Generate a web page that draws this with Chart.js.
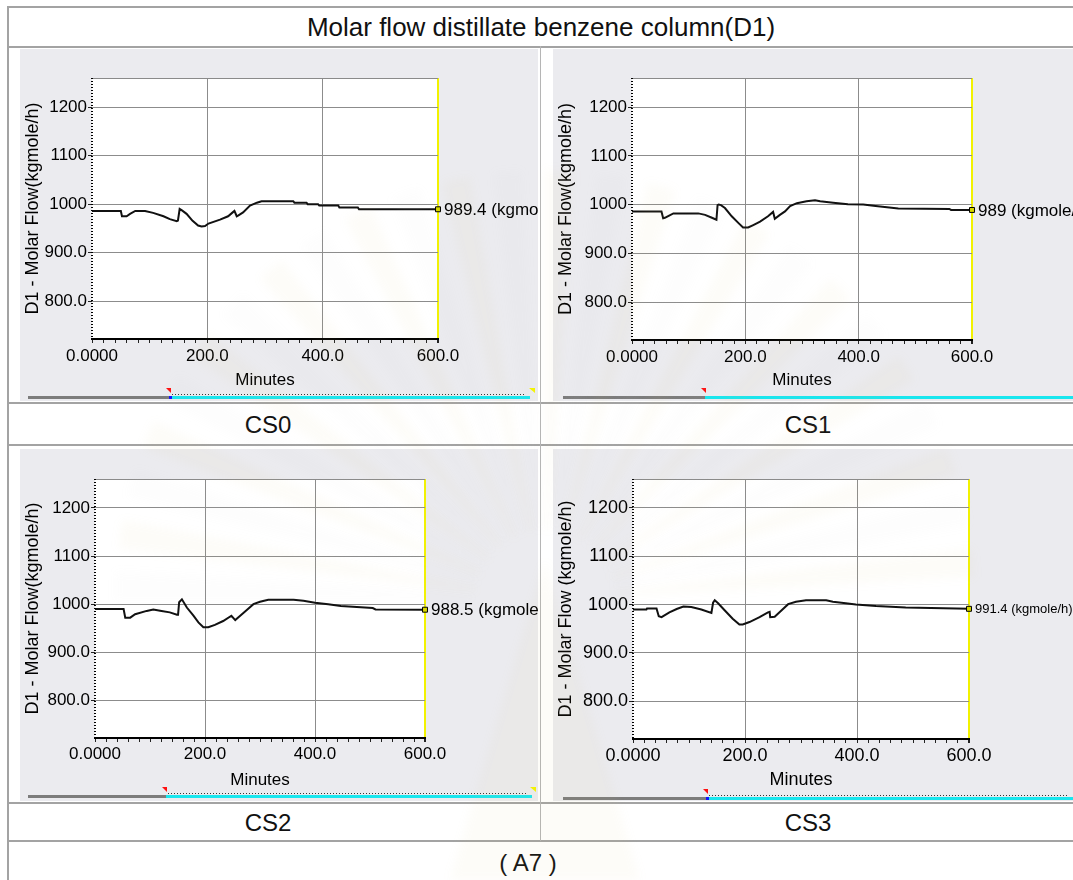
<!DOCTYPE html>
<html>
<head>
<meta charset="utf-8">
<script src="https://cdn.jsdelivr.net/npm/chart.js@4.4.1/dist/chart.umd.min.js"></script>
<style>
body { margin: 0; background: #fff; width: 1073px; height: 880px; overflow: hidden; position: relative; font-family: "Liberation Sans", Arial, sans-serif; }
.hl { position: absolute; left: 7px; width: 1080px; height: 2px; background: #a3a3a3; }
.vl { position: absolute; background: #a3a3a3; }
.cap { position: absolute; width: 300px; text-align: center; color: #111; white-space: nowrap; line-height: 1; }
canvas { position: absolute; background: #ebebef; }
#mark { background: transparent; pointer-events: none; }
</style>
</head>
<body>
<div class="hl" style="top:6px"></div>
<div class="hl" style="top:46px"></div>
<div class="hl" style="top:402px"></div>
<div class="hl" style="top:444px"></div>
<div class="hl" style="top:802px"></div>
<div class="hl" style="top:840px"></div>
<div class="vl" style="left:7px; top:6px; width:2px; height:874px"></div>
<div class="vl" style="left:540px; top:46px; width:1px; height:795px; background:#b5b5b5"></div>

<div class="cap" style="left:241px; top:14px; width:600px; font-size:26px">Molar flow distillate benzene column(D1)</div>
<div class="cap" id="lab0" style="left:118px; top:413px; font-size:24px"></div>
<div class="cap" id="lab1" style="left:658px; top:413px; font-size:24px"></div>
<div class="cap" id="lab2" style="left:118px; top:811px; font-size:24px"></div>
<div class="cap" id="lab3" style="left:658px; top:811px; font-size:24px"></div>
<div class="cap" style="left:378px; top:851px; font-size:24px">( A7 )</div>

<canvas id="c0" width="518" height="352" style="left:20px; top:49px"></canvas>
<canvas id="c1" width="520" height="352" style="left:553px; top:49px"></canvas>
<canvas id="c2" width="518" height="352" style="left:20px; top:449px"></canvas>
<canvas id="c3" width="520" height="352" style="left:553px; top:449px"></canvas>
<canvas id="mark" width="1073" height="880" style="left:0; top:0"></canvas>

<script>
// time (minutes) and D1 molar flow (kgmole/h)
var minutes0 = [0, 50, 52, 60, 66, 75, 92, 106, 124, 135, 147, 149, 152, 156, 164, 174, 184, 190, 196, 202, 222, 236, 244, 247, 251, 254, 262, 274, 286, 294, 349, 351, 372, 374, 392, 394, 427, 429, 461, 463, 600];
var flow0 = [986, 986, 975, 975, 980, 986, 986, 982, 975, 969, 965, 966, 990, 987, 980, 966, 956, 954, 955, 960, 968, 975, 983, 986, 975, 977, 983, 997, 1003, 1006, 1006, 1003, 1003, 1000, 1000, 997, 997, 993, 993, 989.4, 989.4];

var minutes1 = [0, 52, 55, 58, 63, 73, 117, 129, 141, 149, 151, 153, 157, 164, 176, 188, 196, 205, 214, 226, 240, 249, 252, 261, 270, 279, 291, 308, 323, 332, 355, 381, 408, 430, 470, 560, 563, 600];
var flow1 = [986, 986, 972, 973, 976, 982, 982, 979, 973, 969, 999, 1000, 999, 993, 976, 962, 953, 953, 958, 965, 976, 985, 971, 979, 986, 997, 1003, 1007, 1009, 1007, 1004, 1001, 1000, 997, 992, 991, 989, 989];

var minutes2 = [0, 52, 55, 64, 73, 94, 106, 121, 136, 149, 151, 153, 158, 167, 179, 188, 197, 206, 218, 233, 248, 255, 264, 276, 288, 300, 315, 361, 379, 400, 424, 447, 505, 510, 600];
var flow2 = [990, 990, 972, 972, 979, 986, 989, 986, 983, 978, 978, 1004, 1010, 993, 976, 962, 952, 952, 957, 965, 976, 967, 976, 988, 1000, 1005, 1009, 1009, 1007, 1003, 1000, 996, 992, 989, 988.5];

var minutes3 = [0, 24, 25, 42, 46, 51, 65, 78, 90, 104, 122, 140, 143, 146, 152, 164, 178, 190, 196, 208, 226, 241, 244, 245, 253, 265, 277, 291, 309, 345, 357, 380, 398, 434, 487, 600];
var flow3 = [990, 990, 992, 992, 976, 974, 984, 991, 996, 995, 990, 983, 1004, 1009, 1003, 988, 971, 959, 959, 964, 974, 984, 985, 974, 975, 988, 1001, 1006, 1009, 1009, 1006, 1003, 1000.5, 997, 994, 991.4];

var panelNames = ['CS0', 'CS1', 'CS2', 'CS3'];
var endLabels = ['989.4 (kgmole/h)', '989 (kgmole/h)', '988.5 (kgmole/h)', '991.4 (kgmole/h)'];
var xTickValues = [0, 200, 400, 600];
var xTickText = ['0.0000', '200.0', '400.0', '600.0'];
var yTickValues = [800, 900, 1000, 1100, 1200];
var yTickText = ['800.0', '900.0', '1000', '1100', '1200'];

// small marks along the time axis every 20 min
var xMinor = [];
for (var m = 0; m <= 600; m += 20) xMinor.push(m);

// panel geometry (canvas px): area = [left, top, right, bottom] of the plot
var panels = [
    { id: 'c0', area: [72, 29, 418, 290], xH: 54, fs: 17, endFs: 17, tickPad: 3, yTitle: 'D1 - Molar Flow(kgmole/h)',
      slider: { y: 348, a: 8, b: 150, c: 510, dots: true, blue: true, yellow: 512 } },
    { id: 'c1', area: [79, 29, 419, 291], xH: 53, fs: 17, endFs: 17, tickPad: 3, yTitle: 'D1 - Molar Flow(kgmole/h)',
      slider: { y: 348, a: 10, b: 152, c: 520, dots: false, blue: false, yellow: 0 } },
    { id: 'c2', area: [75, 30, 405, 289], xH: 55, fs: 17, endFs: 17, tickPad: 2, yTitle: 'D1 - Molar Flow(kgmole/h)',
      slider: { y: 347, a: 8, b: 146, c: 512, dots: true, blue: false, yellow: 513 } },
    { id: 'c3', area: [80, 30, 416, 290], xH: 54, fs: 18, endFs: 13, tickPad: 2, yTitle: 'D1 - Molar Flow (kgmole/h)',
      slider: { y: 349, a: 10, b: 154, c: 520, dots: true, blue: true, yellow: 0 } }
];

var decoPlugin = {
    id: 'deco',
    beforeDraw: function (chart) {
        var ca = chart.chartArea, ctx = chart.ctx;
        ctx.save();
        ctx.fillStyle = '#ffffff';
        ctx.fillRect(ca.left, ca.top, ca.right - ca.left, ca.bottom - ca.top);
        ctx.restore();
    },
    afterDraw: function (chart, args, opts) {
        var ca = chart.chartArea, ctx = chart.ctx;
        ctx.save();
        // top frame
        ctx.strokeStyle = '#8a8a8a';
        ctx.lineWidth = 1;
        ctx.beginPath();
        ctx.moveTo(ca.left, ca.top + 0.5);
        ctx.lineTo(ca.right, ca.top + 0.5);
        ctx.stroke();
        // dotted value axis
        ctx.strokeStyle = '#000';
        ctx.lineWidth = 2;
        ctx.setLineDash([1, 2]);
        ctx.beginPath();
        ctx.moveTo(ca.left, ca.top);
        ctx.lineTo(ca.left, ca.bottom);
        ctx.stroke();
        ctx.setLineDash([]);
        // value label next to the last point
        var meta = chart.getDatasetMeta(0);
        var pt = meta.data[meta.data.length - 1];
        ctx.fillStyle = '#000';
        ctx.font = opts.endFs + 'px "Liberation Sans", Arial, sans-serif';
        ctx.textBaseline = 'middle';
        ctx.textAlign = 'left';
        ctx.fillText(opts.label, pt.x + 6, pt.y + 1);
        // time slider under the chart
        var s = opts.slider;
        ctx.fillStyle = '#7c7c7c';
        ctx.fillRect(s.a, s.y - 1, s.b - s.a, 3);
        ctx.fillStyle = '#19e6ee';
        ctx.fillRect(s.b, s.y - 1, s.c - s.b, 3);
        if (s.dots) {
            ctx.fillStyle = '#333';
            for (var x = s.b + 2; x < s.c - 4; x += 3) ctx.fillRect(x, s.y - 3, 1, 1);
        }
        ctx.fillStyle = '#ff1010';
        ctx.beginPath();
        ctx.moveTo(s.b - 4, s.y - 9);
        ctx.lineTo(s.b + 1, s.y - 9);
        ctx.lineTo(s.b + 1, s.y - 4);
        ctx.closePath();
        ctx.fill();
        if (s.blue) {
            ctx.fillStyle = '#1010ff';
            ctx.fillRect(s.b - 1, s.y - 1, 3, 3);
        }
        if (s.yellow) {
            ctx.fillStyle = '#f4f400';
            ctx.beginPath();
            ctx.moveTo(s.yellow - 3, s.y - 9);
            ctx.lineTo(s.yellow + 3, s.y - 9);
            ctx.lineTo(s.yellow + 3, s.y - 4);
            ctx.closePath();
            ctx.fill();
        }
        ctx.restore();
    }
};

function makeChart(p, times, flows, label) {
    var cv = document.getElementById(p.id);
    var W = cv.width, H = cv.height, a = p.area;
    var pts = times.map(function (t, i) { return { x: t, y: flows[i] }; });
    var last = pts.length - 1;
    var font = { family: '"Liberation Sans", Arial, sans-serif', size: p.fs };
    return new Chart(cv.getContext('2d'), {
        type: 'line',
        data: {
            datasets: [{
                data: pts,
                borderColor: '#111',
                borderWidth: 2,
                tension: 0,
                clip: 10,
                pointStyle: 'rect',
                pointRadius: function (c) { return c.dataIndex === last ? 3.5 : 0; },
                pointBackgroundColor: '#d6d600',
                pointBorderColor: '#000',
                pointBorderWidth: 1
            }]
        },
        options: {
            responsive: false,
            animation: false,
            devicePixelRatio: 1,
            layout: { padding: { left: 0, top: a[1], right: W - a[2], bottom: H - a[3] - p.xH } },
            plugins: {
                legend: { display: false },
                tooltip: { enabled: false },
                deco: { label: label, endFs: p.endFs, slider: p.slider }
            },
            scales: {
                x: {
                    type: 'linear',
                    min: 0,
                    max: 600,
                    afterBuildTicks: function (s) { s.ticks = xMinor.map(function (v) { return { value: v }; }); },
                    afterFit: function (s) { s.height = p.xH; },
                    ticks: {
                        autoSkip: false,
                        maxRotation: 0,
                        padding: p.tickPad,
                        color: '#000',
                        font: font,
                        callback: function (v) {
                            var i = xTickValues.indexOf(v);
                            return i >= 0 ? xTickText[i] : '';
                        }
                    },
                    grid: {
                        color: function (c) {
                            var v = c.tick.value;
                            if (v === 600) return '#f2f200';
                            if (v === 200 || v === 400) return '#8c8c8c';
                            return 'rgba(0,0,0,0)';
                        },
                        lineWidth: function (c) { return c.tick.value === 600 ? 2 : 1; },
                        tickColor: '#222',
                        tickLength: 4
                    },
                    border: { color: '#000', width: 2 },
                    title: { display: true, text: 'Minutes', color: '#000', font: font, padding: { top: 0, bottom: 2 } }
                },
                y: {
                    min: 722,
                    max: 1260,
                    afterBuildTicks: function (s) { s.ticks = yTickValues.map(function (v) { return { value: v }; }); },
                    afterFit: function (s) { s.width = a[0]; },
                    ticks: {
                        padding: 1,
                        color: '#000',
                        font: font,
                        callback: function (v) {
                            var i = yTickValues.indexOf(v);
                            return i >= 0 ? yTickText[i] : '';
                        }
                    },
                    grid: { color: '#8c8c8c', lineWidth: 1, tickColor: '#222', tickLength: 4 },
                    border: { display: false },
                    title: {
                        display: true,
                        text: p.yTitle,
                        color: '#000',
                        font: { family: font.family, size: 18 },
                        padding: { top: 2, bottom: 0 }
                    }
                }
            }
        },
        plugins: [decoPlugin]
    });
}

var seriesTimes = [minutes0, minutes1, minutes2, minutes3];
var seriesFlows = [flow0, flow1, flow2, flow3];
panels.forEach(function (p, i) {
    document.getElementById('lab' + i).textContent = panelNames[i];
    makeChart(p, seriesTimes[i], seriesFlows[i], endLabels[i]);
});

// very faint sunburst watermark of the source document
(function () {
    var ctx = document.getElementById('mark').getContext('2d');
    var cx = 545, cy = 600, n = 26;
    ctx.filter = 'blur(5px)';
    for (var k = 0; k < n; k++) {
        var a0 = Math.PI + (k / n) * Math.PI, a1 = a0 + Math.PI / n * 0.55;
        ctx.fillStyle = k % 2 ? 'rgba(225,200,120,0.05)' : 'rgba(190,190,190,0.035)';
        ctx.beginPath();
        ctx.moveTo(cx + 70 * Math.cos(a0), cy + 70 * Math.sin(a0));
        ctx.lineTo(cx + 430 * Math.cos(a0), cy + 430 * Math.sin(a0));
        ctx.lineTo(cx + 430 * Math.cos(a1), cy + 430 * Math.sin(a1));
        ctx.lineTo(cx + 70 * Math.cos(a1), cy + 70 * Math.sin(a1));
        ctx.closePath();
        ctx.fill();
    }
    ctx.fillStyle = 'rgba(225,200,120,0.05)';
    ctx.beginPath();
    ctx.moveTo(545, 560);
    ctx.lineTo(640, 880);
    ctx.lineTo(450, 880);
    ctx.closePath();
    ctx.fill();
})();
</script>
</body>
</html>
